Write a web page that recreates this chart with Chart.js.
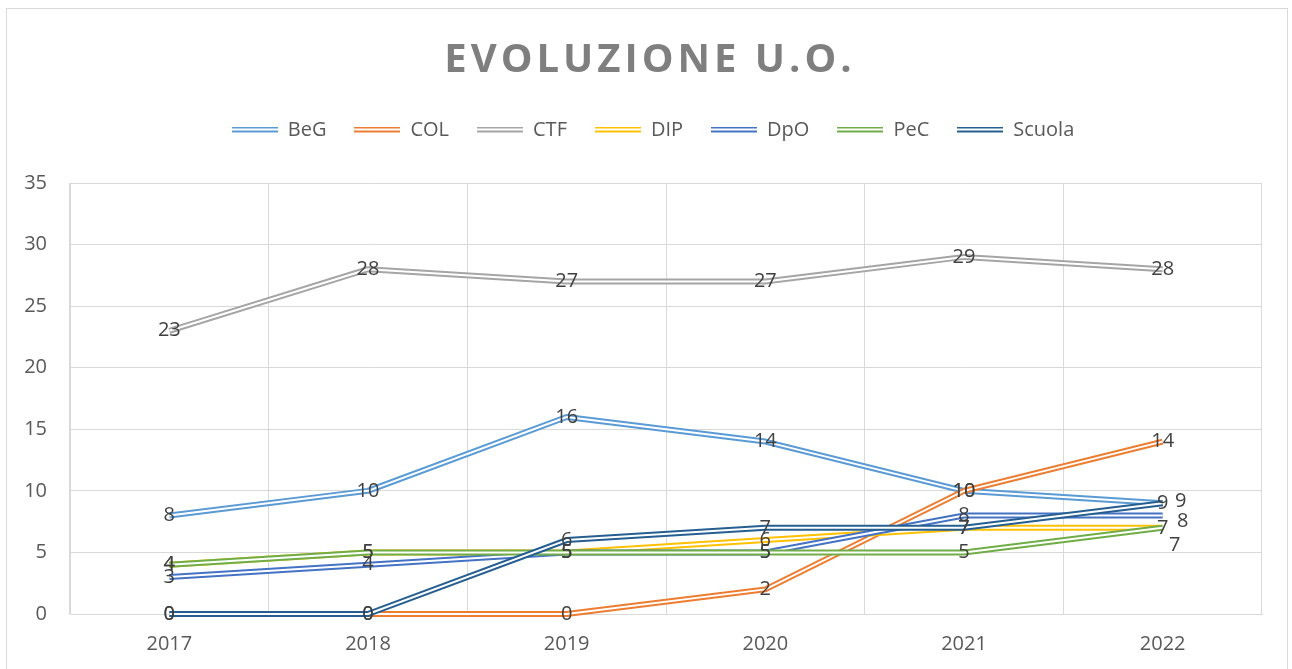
<!DOCTYPE html>
<html>
<head>
<meta charset="utf-8">
<script src="https://cdn.jsdelivr.net/npm/chart.js@4.4.1/dist/chart.umd.min.js"></script>
<style>
  html, body { margin: 0; padding: 0; background: #fff; overflow: hidden; }
</style>
</head>
<body>
<canvas id="myChart" width="1292" height="669"></canvas>
<script>
//Data-----------------------------------------------------
const years = ['2017', '2018', '2019', '2020', '2021', '2022'];
const seriesNames = ['BeG', 'COL', 'CTF', 'DIP', 'DpO', 'PeC', 'Scuola'];

const beg = [8, 10, 16, 14, 10, 9];
const col = [0, 0, 0, 2, 10, 14];
const ctf = [23, 28, 27, 27, 29, 28];
const dip = [4, 5, 5, 6, 7, 7];
const dpo = [3, 4, 5, 5, 8, 8];
const pec = [4, 5, 5, 5, 5, 7];
const scuola = [0, 0, 6, 7, 7, 9];

const seriesValues = [beg, col, ctf, dip, dpo, pec, scuola];
const colorHex = ['#5b9bd5', '#ed7d31', '#a5a5a5', '#ffc000', '#4472c4', '#70ad47', '#255e91'];

// nudges for the crowded labels at 2022 (dataset index -> [dx, dy])
const labelShift = {
    4: [20, 6],
    5: [12, 17],
    6: [18, -2]
};

const FONT = '"Open Sans", "Noto Sans", sans-serif';

// legend symbol: a double line
function doubleLine(color) {
    const c = document.createElement('canvas');
    c.width = 46;
    c.height = 7;
    const g = c.getContext('2d');
    g.fillStyle = color;
    g.fillRect(0, 0, 46, 2);
    g.fillRect(0, 4, 46, 2);
    return c;
}

const datasets = seriesNames.map((name, i) => ({
    label: name,
    data: seriesValues[i],
    borderColor: colorHex[i],
    backgroundColor: colorHex[i],
    borderWidth: 6,
    borderJoinStyle: 'round',
    pointRadius: 0,
    pointHoverRadius: 0,
    tension: 0,
    clip: false,
    order: seriesNames.length - i,
    pointStyle: doubleLine(colorHex[i])
}));

//Plugins--------------------------------------------------
const frame = {
    id: 'frame',
    beforeDraw(chart) {
        const ctx = chart.ctx;
        ctx.save();
        ctx.fillStyle = '#fff';
        ctx.fillRect(0, 0, chart.width, chart.height);
        ctx.strokeStyle = '#d9d9d9';
        ctx.lineWidth = 1;
        ctx.strokeRect(6.5, 8.5, 1281, 700);
        ctx.restore();
    },
    beforeLayout(chart) {
        const lg = chart.legend;
        if (lg && !lg._tall) {
            const fit = lg.fit;
            lg.fit = function () {
                fit.call(this);
                this.height += 34;
            };
            // legend sits a bit right of the plot centre
            const draw = lg.draw;
            lg.draw = function () {
                this.ctx.save();
                this.ctx.translate(22, 1);
                draw.call(this);
                this.ctx.restore();
            };
            lg._tall = true;
        }
    },
    afterDraw(chart) {
        const ctx = chart.ctx;
        ctx.save();
        ctx.font = 'bold 40px ' + FONT;
        ctx.fillStyle = '#7f7f7f';
        ctx.textAlign = 'center';
        ctx.textBaseline = 'middle';
        ctx.letterSpacing = '4px';
        ctx.fillText('EVOLUZIONE U.O.', 650, 61);
        ctx.restore();
    }
};

// white core of every line, drawn right after the line itself
const doubleStroke = {
    id: 'doubleStroke',
    afterDatasetDraw(chart, args) {
        const pts = args.meta.data;
        const ctx = chart.ctx;
        ctx.save();
        ctx.strokeStyle = '#ffffff';
        ctx.lineWidth = 2;
        ctx.lineJoin = 'round';
        ctx.beginPath();
        pts.forEach((p, j) => {
            if (j === 0) ctx.moveTo(p.x, p.y);
            else ctx.lineTo(p.x, p.y);
        });
        ctx.stroke();
        ctx.restore();
    }
};

const valueLabels = {
    id: 'valueLabels',
    afterDatasetsDraw(chart) {
        const ctx = chart.ctx;
        ctx.save();
        ctx.font = '20px ' + FONT;
        ctx.fillStyle = '#404040';
        ctx.textAlign = 'center';
        ctx.textBaseline = 'middle';
        chart.data.datasets.forEach((ds, i) => {
            const meta = chart.getDatasetMeta(i);
            meta.data.forEach((p, j) => {
                let dx = 0, dy = 0;
                if (j === ds.data.length - 1 && labelShift[i]) {
                    dx = labelShift[i][0];
                    dy = labelShift[i][1];
                }
                ctx.fillText(String(ds.data[j]), p.x + dx, p.y + dy);
            });
        });
        ctx.restore();
    }
};

//Config---------------------------------------------------
const config = {
    type: 'line',
    data: { labels: years, datasets },
    options: {
        responsive: false,
        animation: false,
        devicePixelRatio: 1,
        layout: { padding: { top: 91, right: 30, bottom: 0, left: 0 } },
        plugins: {
            title: { display: false },
            tooltip: { enabled: false },
            legend: {
                display: true,
                position: 'top',
                labels: {
                    usePointStyle: true,
                    pointStyleWidth: 46,
                    padding: 28,
                    color: '#595959',
                    font: { family: FONT, size: 20 },
                    sort: (a, b) => a.datasetIndex - b.datasetIndex
                }
            }
        },
        scales: {
            x: {
                offset: true,
                grid: { display: true, offset: true, color: '#d9d9d9', drawTicks: false },
                border: { color: '#d9d9d9' },
                ticks: { color: '#595959', font: { family: FONT, size: 20 }, padding: 18 },
                afterFit: s => { s.height = 55; }
            },
            y: {
                min: 0,
                max: 35,
                ticks: { stepSize: 5, color: '#595959', font: { family: FONT, size: 20 }, padding: 23 },
                grid: { color: '#d9d9d9', drawTicks: false },
                border: { color: '#d9d9d9' },
                afterFit: s => { s.width = 70; }
            }
        }
    },
    plugins: [frame, doubleStroke, valueLabels]
};

const myChart = new Chart(document.getElementById('myChart'), config);
</script>
</body>
</html>
